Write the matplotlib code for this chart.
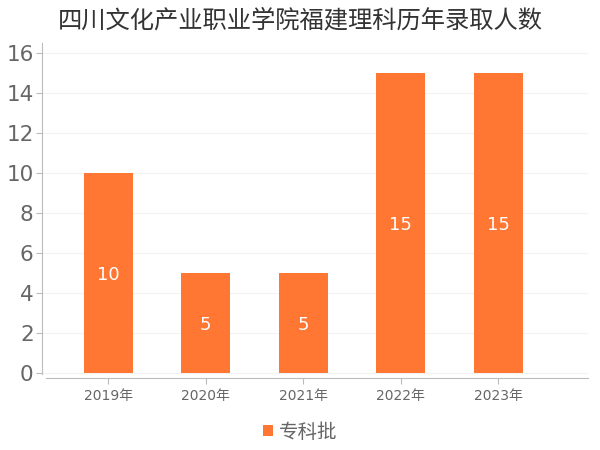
import matplotlib
matplotlib.use("Agg")
import matplotlib.pyplot as plt

plt.rcParams['font.family'] = ['DejaVu Sans', 'Noto Sans CJK SC']

# data
years = ['2019年', '2020年', '2021年', '2022年', '2023年']
counts = [10, 5, 5, 15, 15]
series_name = '专科批'
title = '四川文化产业职业学院福建理科历年录取人数'

bar_color = '#FF7733'
text_gray = '#666666'

fig = plt.figure(figsize=(6, 4.5), dpi=100)
ax = fig.add_axes([0.07, 0.16, 0.91, 0.744])

x = list(range(len(years)))
bars = ax.bar(x, counts, width=0.5, color=bar_color, label=series_name, zorder=3)

for xi, v in zip(x, counts):
    ax.text(xi, v / 2 - 0.1, str(v), ha='center', va='center', color='white', fontsize=13, zorder=4)

ax.set_xlim(-0.68, 4.92)
ax.set_ylim(-0.25, 16.5)
ax.set_yticks(range(0, 17, 2))
ax.set_xticks(x)
ax.set_xticklabels(years)

ax.tick_params(axis='y', labelsize=15.5, labelcolor=text_gray, length=4, color='#bbbbbb', pad=2)
ax.tick_params(axis='x', labelsize=10, labelcolor=text_gray, length=4, color='#bbbbbb', pad=4)

ax.grid(axis='y', color='#f2f2f2', linewidth=0.8, zorder=0)
for s in ['top', 'right']:
    ax.spines[s].set_visible(False)
ax.spines['left'].set_color('#bbbbbb')
ax.spines['bottom'].set_color('#bbbbbb')
ax.spines['left'].set_bounds(-0.05, 16.5)
ax.spines['bottom'].set_bounds(-0.64, 4.92)

fig.text(0.5, 0.955, title, ha='center', va='center', fontsize=17.5, color='#333333')

fig.legend(handles=[bars], labels=[series_name], loc='center', bbox_to_anchor=(0.5, 0.04),
           frameon=False, fontsize=14, labelcolor=text_gray, handlelength=0.5, handleheight=0.5,
           handletextpad=0.3)

fig.savefig('out.png', dpi=100)
